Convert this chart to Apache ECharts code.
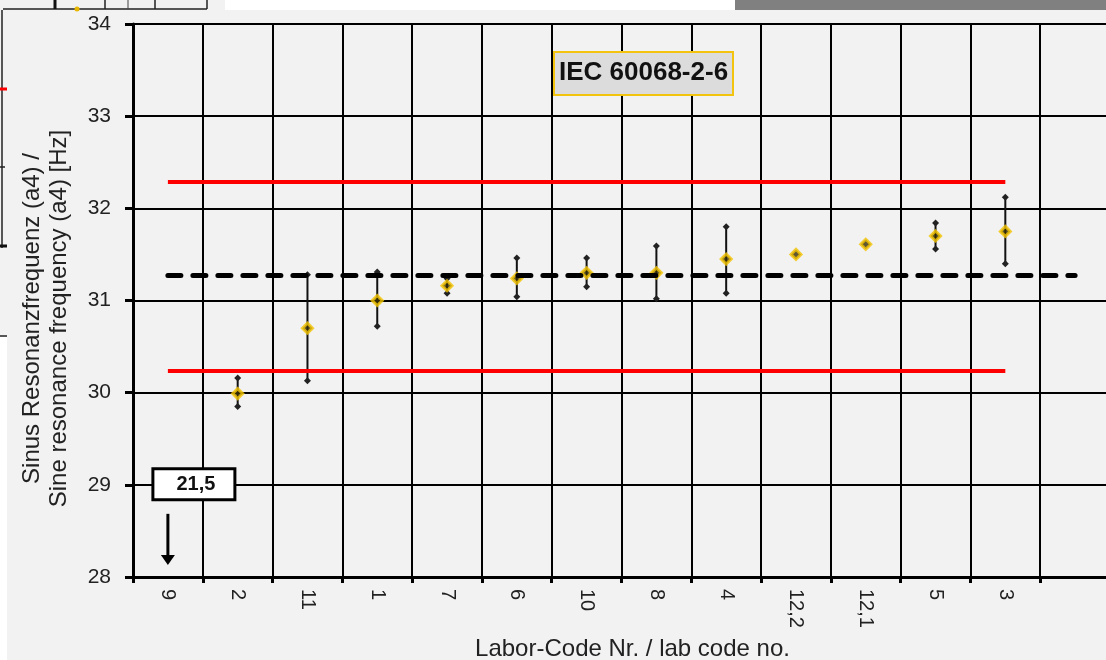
<!DOCTYPE html>
<html>
<head>
<meta charset="utf-8">
<script src="https://cdn.jsdelivr.net/npm/echarts@6/dist/echarts.min.js"></script>
<style>
  html, body { margin: 0; padding: 0; background: #f2f2f2; }
  #chart { width: 1106px; height: 660px; }
</style>
</head>
<body>
<div id="chart"></div>
<script>
// Lab codes in plotted order (last slot is left empty)
const labCodes = ['9', '2', '11', '1', '7', '6', '10', '8', '4', '12,2', '12,1', '5', '3', ''];
// Mean sine resonance frequency per lab [Hz]
const labMeans = [21.5, 29.99, 30.70, 31.00, 31.16, 31.24, 31.30, 31.30, 31.45, 31.50, 31.61, 31.70, 31.75];
// Spread of each lab (lower / upper end of the bar) [Hz]
const labLower = [null, 29.85, 30.13, 30.72, 31.08, 31.04, 31.15, 31.02, 31.08, null, null, 31.56, 31.40];
const labUpper = [null, 30.16, 31.28, 31.31, 31.24, 31.46, 31.46, 31.59, 31.80, null, null, 31.84, 32.12];
// Consensus value and tolerance limits [Hz]
const consensusValue = 31.27;
const upperLimit = 32.29;
const lowerLimit = 30.24;
// Y axis range
const yMin = 28, yMax = 34, yStep = 1;

const FONT = '"Liberation Sans", Arial, sans-serif';
const chart = echarts.init(document.getElementById('chart'), null, { renderer: 'canvas' });

const errorData = [];
labLower.forEach((lo, i) => {
  if (lo != null && labUpper[i] != null) errorData.push([i, lo, labUpper[i]]);
});
const pointData = labMeans.map((v, i) => [i, v]);

const firstLab = labCodes[0];
const lastLab = labCodes[labMeans.length - 1];
const lastSlot = labCodes.length - 1;

const option = {
  backgroundColor: '#f2f2f2',
  animation: false,
  textStyle: { fontFamily: FONT },
  title: {
    text: 'IEC 60068-2-6',
    left: 554, top: 52,
    padding: [8, 5, 9, 5],
    backgroundColor: '#dcdcdc',
    borderColor: '#f2c40f',
    borderWidth: 2,
    textStyle: { fontFamily: FONT, fontSize: 26, fontWeight: 'bold', color: '#111' }
  },
  grid: { left: 133, top: 24, width: 977, height: 553, containLabel: false, outerBoundsMode: 'none' },
  xAxis: {
    type: 'category',
    data: labCodes,
    boundaryGap: true,
    name: 'Labor-Code Nr. / lab code no.',
    nameLocation: 'middle',
    nameGap: 60,
    nameTextStyle: { fontFamily: FONT, fontSize: 24, color: '#222', padding: [0, 0, 0, 22] },
    axisLine: { lineStyle: { color: '#000', width: 3 } },
    axisTick: { show: true, length: 6, lineStyle: { color: '#000', width: 3 } },
    axisLabel: { rotate: -90, fontSize: 20, color: '#222', margin: 12, fontFamily: FONT },
    splitLine: { show: true, lineStyle: { color: '#000', width: 2 } }
  },
  yAxis: {
    type: 'value',
    min: yMin, max: yMax, interval: yStep,
    name: 'Sinus Resonanzfrequenz (a4) /\nSine resonance frequency (a4) [Hz]',
    nameLocation: 'middle',
    nameRotate: 90,
    nameGap: 60,
    nameTextStyle: { fontFamily: FONT, fontSize: 24, color: '#222', lineHeight: 27, padding: [0, 36, 0, 0] },
    axisLine: { show: true, lineStyle: { color: '#000', width: 3 } },
    axisTick: { show: true, length: 8, lineStyle: { color: '#000', width: 3 } },
    axisLabel: { fontSize: 21, color: '#222', margin: 22, fontFamily: FONT },
    splitLine: { show: true, lineStyle: { color: '#000', width: 2 } }
  },
  series: [
    {
      // tolerance limits and consensus value
      type: 'line',
      data: [],
      silent: true,
      markLine: {
        symbol: 'none',
        silent: true,
        label: { show: false },
        data: [
          [{ xAxis: firstLab, yAxis: upperLimit, lineStyle: { color: '#ff0000', width: 4, type: 'solid' } },
           { xAxis: lastLab, yAxis: upperLimit }],
          [{ xAxis: firstLab, yAxis: lowerLimit, lineStyle: { color: '#ff0000', width: 4, type: 'solid' } },
           { xAxis: lastLab, yAxis: lowerLimit }],
          [{ xAxis: firstLab, yAxis: consensusValue, lineStyle: { color: '#000', width: 5, type: [13, 12], cap: 'round' } },
           { xAxis: lastSlot, yAxis: consensusValue }]
        ]
      }
    },
    {
      // spread bars per lab
      type: 'custom',
      data: errorData,
      encode: { x: 0, y: [1, 2] },
      z: 3,
      renderItem: function (params, api) {
        const x = api.value(0);
        const top = api.coord([x, api.value(2)]);
        const bot = api.coord([x, api.value(1)]);
        const cap = function (p) {
          return {
            type: 'polygon',
            shape: { points: [[p[0], p[1] - 3.5], [p[0] + 3.5, p[1]], [p[0], p[1] + 3.5], [p[0] - 3.5, p[1]]] },
            style: { fill: '#222' }
          };
        };
        return {
          type: 'group',
          children: [
            { type: 'line', shape: { x1: top[0], y1: top[1], x2: bot[0], y2: bot[1] },
              style: { stroke: '#111', lineWidth: 2 } },
            cap(top), cap(bot)
          ]
        };
      }
    },
    {
      // lab mean values
      type: 'scatter',
      data: pointData,
      clip: true,
      z: 4,
      symbol: 'diamond',
      symbolSize: 10,
      itemStyle: { color: '#3a3000', borderColor: '#f3c300', borderWidth: 3 }
    }
  ]
};
chart.setOption(option);

// Off-scale value of the first lab: value box with arrow pointing down
const offVal = labMeans[0];
const anchor = chart.convertToPixel({ gridIndex: 0 }, [firstLab, yMin + 1]);
const floor = chart.convertToPixel({ gridIndex: 0 }, [firstLab, yMin]);
const ax = anchor[0], ay = anchor[1];

const decor = [
  // strips along the upper edge
  { type: 'rect', shape: { x: 225, y: 0, width: 510, height: 10 }, style: { fill: '#ffffff' }, silent: true },
  { type: 'rect', shape: { x: 735, y: 0, width: 371, height: 10 }, style: { fill: '#808080' }, silent: true },
  { type: 'line', shape: { x1: 3, y1: 9, x2: 207, y2: 9 }, style: { stroke: '#222', lineWidth: 1.5 } },
  { type: 'line', shape: { x1: 55, y1: 0, x2: 55, y2: 9 }, style: { stroke: '#111', lineWidth: 3 } },
  { type: 'line', shape: { x1: 105, y1: 0, x2: 105, y2: 9 }, style: { stroke: '#222', lineWidth: 1.5 } },
  { type: 'line', shape: { x1: 128, y1: 0, x2: 128, y2: 9 }, style: { stroke: '#444', lineWidth: 1 } },
  { type: 'line', shape: { x1: 155, y1: 0, x2: 155, y2: 9 }, style: { stroke: '#222', lineWidth: 1.5 } },
  { type: 'line', shape: { x1: 207, y1: 0, x2: 207, y2: 9 }, style: { stroke: '#222', lineWidth: 1.5 } },
  { type: 'circle', shape: { cx: 77, cy: 9, r: 2.5 }, style: { fill: '#e8b800' } },
  // strip along the left edge
  { type: 'line', shape: { x1: 2, y1: 10, x2: 2, y2: 248 }, style: { stroke: '#222', lineWidth: 1.5 } },
  { type: 'line', shape: { x1: 0, y1: 89, x2: 7, y2: 89 }, style: { stroke: '#ff0000', lineWidth: 3 } },
  { type: 'line', shape: { x1: 0, y1: 167, x2: 5, y2: 167 }, style: { stroke: '#222', lineWidth: 1.5 } },
  { type: 'line', shape: { x1: 0, y1: 246, x2: 7, y2: 246 }, style: { stroke: '#111', lineWidth: 3 } },
  { type: 'rect', shape: { x: 0, y: 337, width: 7, height: 323 }, style: { fill: '#ffffff' }, silent: true },
  { type: 'line', shape: { x1: 0, y1: 336, x2: 7, y2: 336 }, style: { stroke: '#222', lineWidth: 1.5 } },
  // off-scale value box
  { type: 'rect', shape: { x: ax - 15, y: ay - 16, width: 82, height: 31 },
    style: { fill: '#ffffff', stroke: '#000', lineWidth: 3 }, z: 10 },
  { type: 'text', x: ax + 28, y: ay, z: 11,
    style: { text: String(offVal).replace('.', ','), fontFamily: FONT, fontSize: 20, fontWeight: 'bold',
             fill: '#111', align: 'center', verticalAlign: 'middle' } },
  { type: 'line', shape: { x1: ax, y1: ay + 29, x2: ax, y2: floor[1] - 20 },
    style: { stroke: '#000', lineWidth: 3 }, z: 10 },
  { type: 'polygon', shape: { points: [[ax - 7, floor[1] - 22], [ax + 7, floor[1] - 22], [ax, floor[1] - 12]] },
    style: { fill: '#000' }, z: 10 }
];
chart.setOption({ graphic: decor });
</script>
</body>
</html>
